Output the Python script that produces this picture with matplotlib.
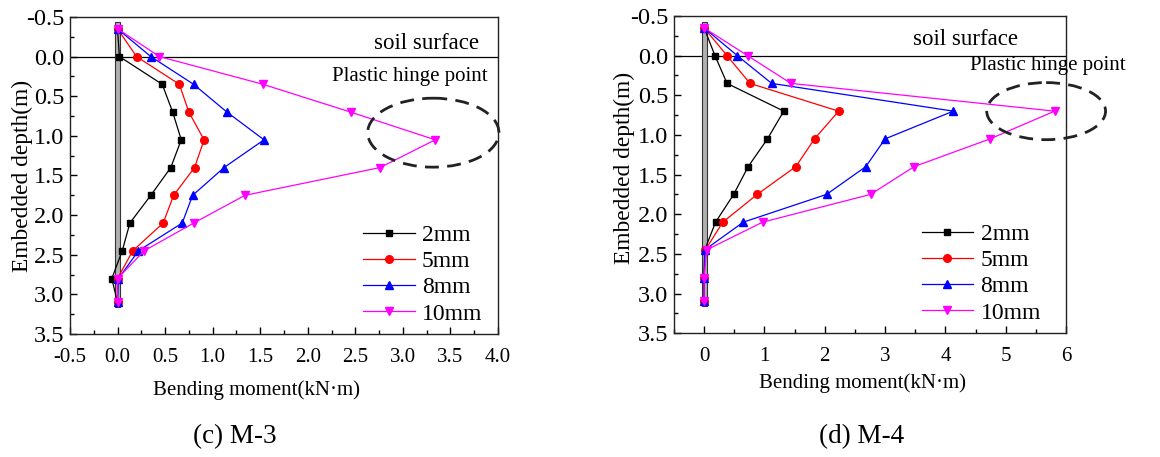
import numpy as np
import matplotlib.pyplot as plt
from matplotlib.patches import Ellipse, Rectangle
from matplotlib.ticker import MultipleLocator

plt.rcParams['font.family'] = ['Liberation Serif', 'DejaVu Serif']

# ── Data ──────────────────────────────────────────────────────────────────────

depth = [-0.35, 0.0, 0.35, 0.7, 1.05, 1.4, 1.75, 2.1, 2.45, 2.8, 3.1]
labels = ["2mm", "5mm", "8mm", "10mm"]

# (c) M-3
m3_2mm  = [0.0, 0.02, 0.47, 0.58, 0.67, 0.56, 0.35, 0.13, 0.05, -0.06, 0.0]
m3_5mm  = [0.0, 0.20, 0.65, 0.75, 0.91, 0.81, 0.59, 0.48, 0.16, 0.0, 0.0]
m3_8mm  = [0.0, 0.35, 0.80, 1.15, 1.54, 1.12, 0.79, 0.68, 0.22, 0.01, 0.0]
m3_10mm = [0.0, 0.44, 1.53, 2.45, 3.34, 2.76, 1.34, 0.80, 0.28, 0.0, 0.0]

# (d) M-4
m4_2mm  = [0.0, 0.18, 0.38, 1.32, 1.05, 0.73, 0.49, 0.19, 0.01, 0.0, 0.0]
m4_5mm  = [0.0, 0.38, 0.76, 2.23, 1.83, 1.52, 0.88, 0.31, 0.02, 0.0, 0.0]
m4_8mm  = [0.0, 0.55, 1.12, 4.13, 3.00, 2.68, 2.03, 0.65, 0.01, 0.0, 0.0]
m4_10mm = [0.0, 0.72, 1.44, 5.81, 4.74, 3.48, 2.76, 0.97, 0.04, 0.0, 0.0]

pile_top, pile_bottom = -0.43, 3.16

# ── Style ─────────────────────────────────────────────────────────────────────

colors  = ["black", "#ff0000", "#0000ff", "#ff00ff"]
markers = ["s", "o", "^", "v"]
msizes  = [5, 5.5, 6, 6]


def draw_panel(ax, series, xlim, xmajor, pile_w, ell, soil_xy, hinge_xy, fmt,
               leg_anchor):
    # pile
    ax.add_patch(Rectangle((-pile_w / 2, pile_top), pile_w, pile_bottom - pile_top,
                           facecolor="#b0b0b0", edgecolor="#333333", lw=0.8, zorder=2))
    ax.axhline(0, color="black", lw=0.9, zorder=1)

    for vals, lab, c, m, ms in zip(series, labels, colors, markers, msizes):
        ax.plot(vals, depth, color=c, marker=m, markersize=ms, lw=0.9,
                label=lab, zorder=3)

    ax.add_patch(Ellipse(ell[:2], ell[2], ell[3], fill=False, ls=(0, (5, 3)),
                         lw=2, edgecolor="#222222", clip_on=False, zorder=4))

    ax.text(*soil_xy, "soil surface", fontsize=16.5, ha="right", va="center")
    ax.text(*hinge_xy, "Plastic hinge point", fontsize=15,
            ha="left", va="center", clip_on=False)

    ax.set_xlim(*xlim)
    ax.set_ylim(3.5, -0.5)
    ax.xaxis.set_major_locator(MultipleLocator(xmajor))
    ax.xaxis.set_minor_locator(MultipleLocator(xmajor / 2))
    ax.yaxis.set_major_locator(MultipleLocator(0.5))
    ax.yaxis.set_minor_locator(MultipleLocator(0.25))
    ax.xaxis.set_major_formatter(fmt)
    ax.yaxis.set_major_formatter(lambda v, p: f"{v:.1f}")
    ax.tick_params(which="major", direction="in", length=5, width=1)
    ax.tick_params(which="minor", direction="in", length=3, width=1)
    ax.tick_params(axis="x", labelsize=15, pad=10)
    ax.tick_params(axis="y", labelsize=17.5, pad=4)
    for s in ax.spines.values():
        s.set_linewidth(1.0)
        s.set_color("#222222")

    ax.set_ylabel("Embedded depth(m)", fontsize=16.8)
    ax.set_xlabel("Bending moment(kN·m)", fontsize=15)
    ax.legend(loc="lower right", bbox_to_anchor=leg_anchor, frameon=False,
              fontsize=17, handlelength=2.2, handletextpad=0.3,
              labelspacing=0.2, borderaxespad=0.0)


fig = plt.figure(figsize=(11.6, 4.57), dpi=100)
ax1 = fig.add_axes([0.0603, 0.269, 0.369, 0.694])
ax2 = fig.add_axes([0.581, 0.271, 0.338, 0.694])

draw_panel(ax1, [m3_2mm, m3_5mm, m3_8mm, m3_10mm], (-0.5, 4.0), 0.5, 0.05,
           (3.32, 0.96, 1.38, 0.87), (3.8, -0.16), (2.25, 0.25),
           lambda v, p: f"{v:.1f}", (0.985, 0.0))
draw_panel(ax2, [m4_2mm, m4_5mm, m4_8mm, m4_10mm], (-0.5, 6.0), 1.0, 0.08,
           (5.67, 0.70, 1.97, 0.72), (5.2, -0.2), (4.40, 0.13),
           lambda v, p: f"{v:.0f}", (0.96, 0.0))

ax1.xaxis.set_label_coords(0.435, -0.145)
ax1.yaxis.set_label_coords(-0.086, 0.5)
ax2.xaxis.set_label_coords(0.482, -0.126)
ax2.yaxis.set_label_coords(-0.10, 0.52)

fig.text(235 / 1160, 1 - 437 / 457, "(c) M-3", fontsize=19.5, ha="center", va="center")
fig.text(862 / 1160, 1 - 437 / 457, "(d) M-4", fontsize=19.5, ha="center", va="center")

fig.savefig("out.png", dpi=100)
